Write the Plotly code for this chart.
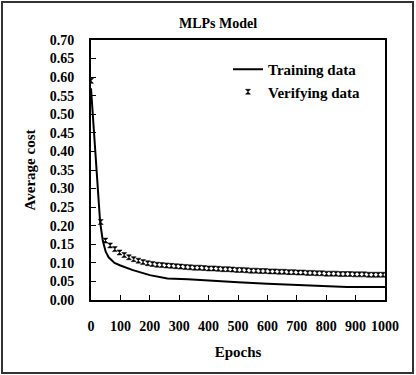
import plotly.graph_objects as go

# Training data (solid line)
train_epochs = [0, 10, 20, 31, 40, 50, 60, 80, 100, 140, 200, 260, 330, 400, 500, 600, 700, 800, 870, 1000]
train_cost = [0.57, 0.45, 0.34, 0.21, 0.16, 0.13, 0.115, 0.10, 0.093, 0.081, 0.067, 0.058, 0.056, 0.052,
              0.048, 0.044, 0.040, 0.037, 0.035, 0.035]

# Verifying data (markers)
verify_epochs = [0, 33, 49, 65, 81, 97, 113, 129, 145, 161, 177, 193, 209, 225, 241, 257, 273, 289, 305,
                 321, 337, 353, 369, 385, 401, 417, 433, 449, 465, 481, 497, 513, 529, 545, 561, 577, 593,
                 609, 625, 641, 657, 673, 689, 705, 721, 737, 753, 769, 785, 801, 817, 833, 849, 865, 881,
                 897, 913, 929, 945, 961, 977, 993]
verify_cost = [0.59, 0.21, 0.160, 0.147, 0.137, 0.128, 0.121, 0.115, 0.110, 0.106, 0.102, 0.099, 0.097,
               0.095, 0.094, 0.093, 0.092, 0.091, 0.090, 0.089, 0.088, 0.087, 0.087, 0.086, 0.085, 0.085,
               0.084, 0.083, 0.083, 0.082, 0.081, 0.081, 0.080, 0.079, 0.079, 0.078, 0.078, 0.077, 0.077,
               0.076, 0.076, 0.075, 0.075, 0.074, 0.074, 0.073, 0.073, 0.072, 0.072, 0.071, 0.071, 0.071,
               0.070, 0.070, 0.070, 0.069, 0.069, 0.069, 0.068, 0.068, 0.068, 0.068]

x_ticks = [0, 100, 200, 300, 400, 500, 600, 700, 800, 900, 1000]

FONT = "Liberation Serif, Times New Roman, serif"

fig = go.Figure()
fig.add_trace(go.Scatter(x=train_epochs, y=train_cost, mode="lines", name="Training data",
                         line=dict(color="black", width=2)))
fig.add_trace(go.Scatter(x=verify_epochs, y=verify_cost, mode="markers", name="Verifying data",
                         marker=dict(symbol="hourglass", size=5, color="black",
                                     line=dict(color="black", width=0.5))))

W, H = 416, 375
L, R, T, B = 91, 31, 40, 75
pw, ph = W - L - R, H - T - B

def px(xp):
    return (xp - L) / pw

def py(yp):
    return (H - B - yp) / ph

fig.update_layout(
    width=W, height=H,
    margin=dict(l=L, r=R, t=T, b=B, autoexpand=False),
    paper_bgcolor="white", plot_bgcolor="white",
    font=dict(family=FONT, size=14, color="black", weight="bold"),
    title=dict(text="MLPs Model", x=218 / W, xref="container", xanchor="center",
               y=1 - 23 / H, yref="container", yanchor="middle",
               font=dict(family=FONT, size=14, color="black", weight="bold")),
    xaxis=dict(range=[0, 1000], tickvals=x_ticks, ticks="inside", ticklen=5, tickcolor="black",
               showline=True, linecolor="black", linewidth=2, mirror=True, showgrid=False,
               zeroline=False, ticklabelstandoff=12,
               tickfont=dict(family=FONT, size=14, weight="bold"),
               title=dict(text="Epochs", standoff=14,
                          font=dict(family=FONT, size=15, weight="bold"))),
    yaxis=dict(range=[0, 0.70], dtick=0.05, tickformat=".2f", ticks="inside", ticklen=5,
               tickcolor="black", showline=True, linecolor="black", linewidth=2, mirror=True,
               showgrid=False, zeroline=False, ticklabelstandoff=12,
               tickfont=dict(family=FONT, size=14, weight="bold"),
               title=dict(text="Average cost", standoff=10,
                          font=dict(family=FONT, size=15, weight="bold"))),
    legend=dict(x=px(228), y=py(53), xanchor="left", yanchor="top", bgcolor="rgba(0,0,0,0)",
                font=dict(family=FONT, size=15, weight="bold"), itemwidth=30, tracegroupgap=0),
    showlegend=True,
    shapes=[dict(type="rect", xref="paper", yref="paper",
                 x0=px(2), x1=px(413), y0=py(373), y1=py(2),
                 line=dict(color="#333333", width=2), fillcolor="rgba(0,0,0,0)", layer="below")],
)

fig.write_html("out.html", config={"displayModeBar": False},
               post_script="document.body.style.margin='0';document.body.style.overflow='hidden';")
